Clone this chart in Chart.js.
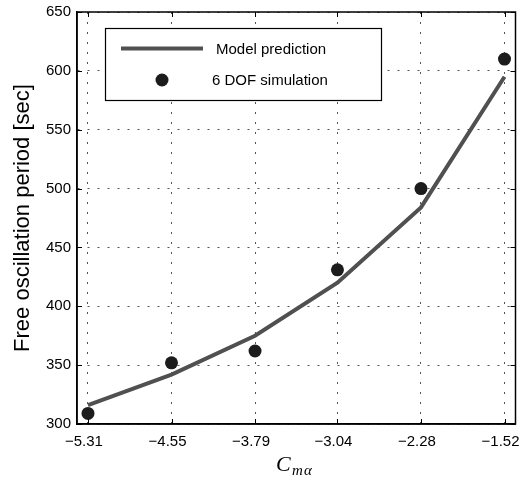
<!DOCTYPE html>
<html>
<head>
<meta charset="utf-8">
<script src="https://cdn.jsdelivr.net/npm/chart.js@4/dist/chart.umd.min.js"></script>
<style>
  html, body { margin: 0; padding: 0; background: #fff; }
  canvas { display: block; }
</style>
</head>
<body>
<canvas id="c" width="522" height="481"></canvas>
<script>
// Pitching-moment coefficient values (x axis) and the tick labels shown on it
const cmAlpha = [-5.31, -4.55, -3.79, -3.04, -2.28, -1.52];
const yTickValues = [300, 350, 400, 450, 500, 550, 600, 650];

// Free oscillation period [sec]
const modelPrediction = [316, 342, 375, 420, 484, 595];
const dofSimulation = [309, 352, 362, 431, 500, 610];

const seriesNames = ['Model prediction', '6 DOF simulation'];

const FONT = "'Liberation Sans', Arial, Helvetica, sans-serif";
const SERIF = "'Liberation Serif', 'Times New Roman', serif";

const fmtTick = v => (v < 0 ? '\u2212' : '') + Math.abs(v).toFixed(2);

// Box frame, inward tick marks, axis titles and the in-plot legend
const decorations = {
  id: 'decorations',
  afterDraw(chart) {
    const { ctx, chartArea: a, scales } = chart;
    const xs = scales.x, ys = scales.y;
    ctx.save();

    // full frame
    ctx.strokeStyle = '#000';
    ctx.lineWidth = 1.5;
    ctx.strokeRect(a.left, a.top, a.right - a.left, a.bottom - a.top);

    // inward ticks on all four sides
    const tl = 5;
    ctx.lineWidth = 1;
    ctx.beginPath();
    cmAlpha.forEach(v => {
      const px = Math.round(xs.getPixelForValue(v)) + 0.5;
      ctx.moveTo(px, a.bottom); ctx.lineTo(px, a.bottom - tl);
      ctx.moveTo(px, a.top); ctx.lineTo(px, a.top + tl);
    });
    yTickValues.forEach(v => {
      const py = Math.round(ys.getPixelForValue(v)) + 0.5;
      ctx.moveTo(a.left, py); ctx.lineTo(a.left + tl, py);
      ctx.moveTo(a.right, py); ctx.lineTo(a.right - tl, py);
    });
    ctx.stroke();

    // y axis title
    ctx.fillStyle = '#000';
    ctx.save();
    ctx.translate(29, (a.top + a.bottom) / 2);
    ctx.rotate(-Math.PI / 2);
    ctx.font = '22px ' + FONT;
    ctx.textAlign = 'center';
    ctx.textBaseline = 'alphabetic';
    ctx.fillText('Free oscillation period [sec]', 0, 0);
    ctx.restore();

    // x axis title: C with subscript m alpha
    ctx.textAlign = 'left';
    ctx.textBaseline = 'alphabetic';
    ctx.font = 'italic 22px ' + SERIF;
    ctx.fillText('C', 276, 471);
    ctx.font = 'italic 15px ' + SERIF;
    ctx.fillText('m', 292, 475);
    ctx.fillText('\u03b1', 304, 475);

    // legend
    const lx = 105, ly = 28, lw = 276, lh = 72;
    ctx.fillStyle = '#fff';
    ctx.fillRect(lx, ly, lw, lh);
    ctx.strokeStyle = '#000';
    ctx.lineWidth = 1.2;
    ctx.strokeRect(lx + 0.5, ly + 0.5, lw, lh);

    const dsLine = chart.data.datasets[0];
    const dsDot = chart.data.datasets[1];
    ctx.strokeStyle = dsLine.borderColor;
    ctx.lineWidth = dsLine.borderWidth;
    ctx.beginPath();
    ctx.moveTo(121, 48.5); ctx.lineTo(203, 48.5);
    ctx.stroke();

    ctx.fillStyle = dsDot.backgroundColor;
    ctx.beginPath();
    ctx.arc(162, 80, dsDot.pointRadius, 0, Math.PI * 2);
    ctx.fill();

    ctx.fillStyle = '#000';
    ctx.font = '15px ' + FONT;
    ctx.textBaseline = 'middle';
    ctx.fillText(seriesNames[0], 216, 50);
    ctx.fillText(seriesNames[1], 212, 81);

    ctx.restore();
  }
};

new Chart(document.getElementById('c'), {
  data: {
    datasets: [
      {
        type: 'line',
        label: seriesNames[0],
        data: cmAlpha.map((x, i) => ({ x, y: modelPrediction[i] })),
        borderColor: '#505050',
        borderWidth: 4,
        pointRadius: 0,
        tension: 0,
        fill: false,
        order: 2
      },
      {
        type: 'scatter',
        label: seriesNames[1],
        data: cmAlpha.map((x, i) => ({ x, y: dofSimulation[i] })),
        backgroundColor: '#1c1c1c',
        borderWidth: 0,
        pointRadius: 6.5,
        pointHoverRadius: 6.5,
        showLine: false,
        order: 1
      }
    ]
  },
  plugins: [decorations],
  options: {
    responsive: false,
    animation: false,
    events: [],
    layout: { padding: { left: 0, right: 5, top: 12, bottom: 0 } },
    plugins: {
      legend: { display: false },
      tooltip: { enabled: false },
      title: { display: false }
    },
    scales: {
      x: {
        type: 'linear',
        position: 'bottom',
        min: -5.41,
        max: -1.42,
        afterBuildTicks: s => { s.ticks = cmAlpha.map(v => ({ value: v })); },
        afterFit: s => { s.height = 57; s.paddingLeft = 0; s.paddingRight = 0; },
        ticks: {
          callback: v => fmtTick(v),
          font: { family: FONT, size: 15 },
          color: '#000',
          padding: 9,
          labelOffset: -4,
          maxRotation: 0,
          autoSkip: false
        },
        grid: { color: '#555', lineWidth: 1, drawTicks: false },
        border: { display: true, color: '#000', width: 1.5, dash: [2, 8] }
      },
      y: {
        type: 'linear',
        position: 'left',
        min: 300,
        max: 650,
        afterBuildTicks: s => { s.ticks = yTickValues.map(v => ({ value: v })); },
        afterFit: s => { s.width = 77; s.paddingTop = 0; s.paddingBottom = 0; },
        ticks: {
          font: { family: FONT, size: 15 },
          color: '#000',
          padding: 6
        },
        grid: { color: '#555', lineWidth: 1, drawTicks: false },
        border: { display: true, color: '#000', width: 1.5, dash: [2, 8] }
      }
    }
  }
});
</script>
</body>
</html>
